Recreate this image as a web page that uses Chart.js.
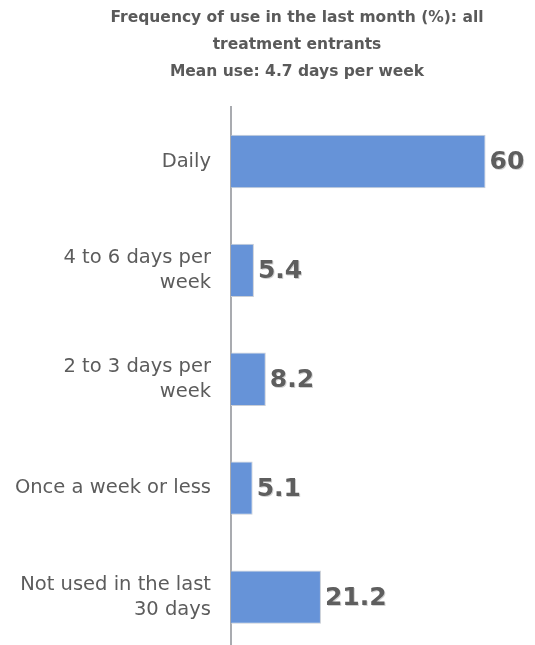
<!DOCTYPE html>
<html>
<head>
<meta charset="utf-8">
<script src="https://cdn.jsdelivr.net/npm/chart.js@4.4.0/dist/chart.umd.min.js"></script>
<style>
  html, body { margin: 0; padding: 0; background: #fff; overflow: hidden; }
  canvas { display: block; }
</style>
</head>
<body>
<canvas id="chart" width="535" height="684"></canvas>
<script>
// --- data ---
const categories = [
    'Daily',
    ['4 to 6 days per', 'week'],
    ['2 to 3 days per', 'week'],
    'Once a week or less',
    ['Not used in the last', '30 days']
];
const percentValues = [60, 5.4, 8.2, 5.1, 21.2];
const titleLines = [
    'Frequency of use in the last month (%): all',
    'treatment entrants',
    'Mean use: 4.7 days per week'
];

const FONT = "'DejaVu Sans', sans-serif";

// title drawn by hand so it can sit off-centre like the original
const titlePlugin = {
    id: 'titleLines',
    afterDraw(chart) {
        const ctx = chart.ctx;
        ctx.save();
        ctx.font = 'bold 15.5px ' + FONT;
        ctx.fillStyle = '#5a5a5a';
        ctx.textAlign = 'center';
        ctx.textBaseline = 'middle';
        titleLines.forEach((line, i) => ctx.fillText(line, 297, 18 + i * 27));
        ctx.restore();
    }
};

// value labels at end of each bar
const valueLabels = {
    id: 'valueLabels',
    afterDatasetsDraw(chart) {
        const ctx = chart.ctx;
        const meta = chart.getDatasetMeta(0);
        ctx.save();
        ctx.font = 'bold 25px ' + FONT;
        ctx.textAlign = 'left';
        ctx.textBaseline = 'middle';
        meta.data.forEach((bar, i) => {
            const txt = String(percentValues[i]);
            ctx.fillStyle = 'rgba(0,0,0,0.18)';
            ctx.fillText(txt, bar.x + 5, bar.y + 2);
            ctx.fillStyle = '#5e5e5e';
            ctx.fillText(txt, bar.x + 4, bar.y + 1);
        });
        ctx.restore();
    }
};

new Chart(document.getElementById('chart'), {
    type: 'bar',
    data: {
        labels: categories,
        datasets: [{
            data: percentValues,
            backgroundColor: '#6693d8',
            borderColor: '#c9ced6',
            borderWidth: 1,
            barPercentage: 0.49,
            categoryPercentage: 1
        }]
    },
    options: {
        indexAxis: 'y',
        responsive: false,
        animation: false,
        layout: { padding: { top: 107, right: 7, bottom: 4, left: 0 } },
        plugins: {
            legend: { display: false },
            tooltip: { enabled: false },
            title: { display: false }
        },
        scales: {
            x: {
                min: 0, max: 70,
                display: false,
                grid: { display: false }
            },
            y: {
                grid: { display: false, drawTicks: false },
                border: { display: true, color: '#a9abb0', width: 2 },
                ticks: {
                    color: '#5c5c5c',
                    font: { family: FONT, size: 19.5, lineHeight: 1.28 },
                    padding: 20
                },
                afterFit(scale) { scale.width = 231; }
            }
        }
    },
    plugins: [titlePlugin, valueLabels]
});
</script>
</body>
</html>
